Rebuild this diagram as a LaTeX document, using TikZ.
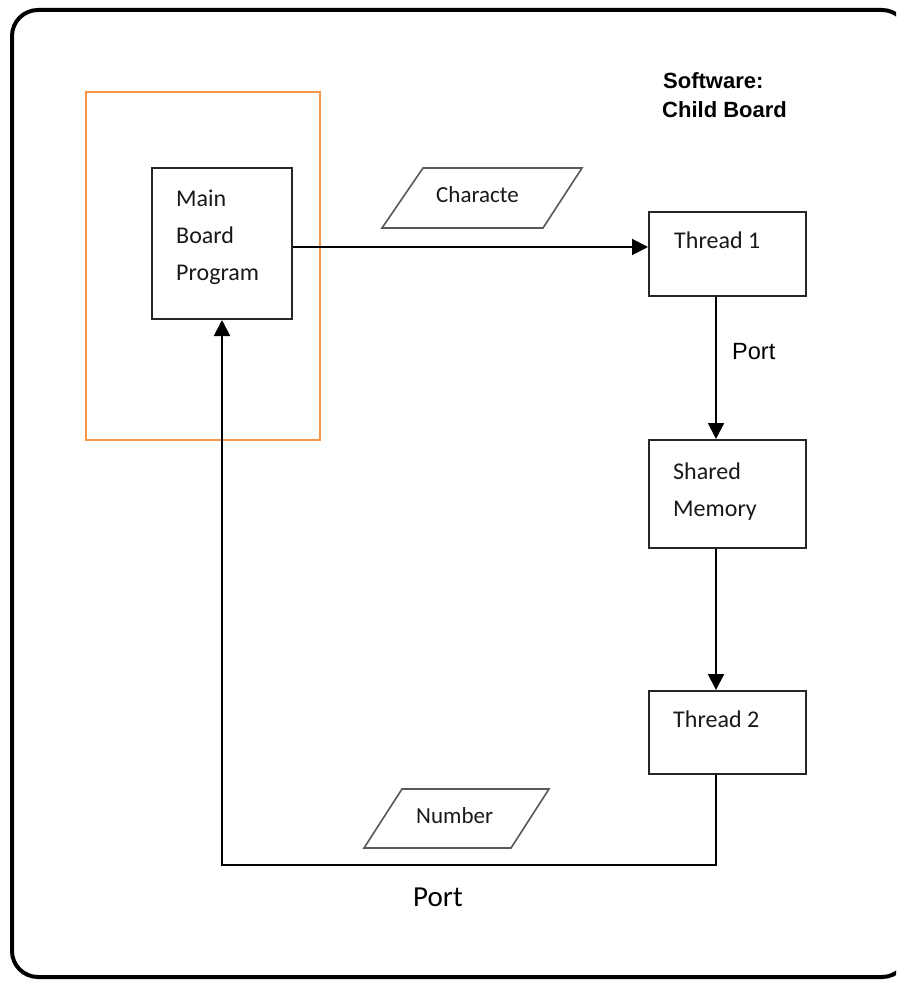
\documentclass[tikz,border=0pt]{standalone}
\usepackage{fontspec}
\setmainfont{Carlito}
\newfontfamily\arialf{Liberation Sans}
\usetikzlibrary{arrows.meta,calc}

\tikzset{
  box/.style={draw=black!85, line width=2pt, minimum width=157pt, inner sep=0pt, fill=white},
  txt/.style={anchor=base west, inner sep=0pt, font=\fontsize{24}{24}\selectfont, text=black!90},
  smalltxt/.style={anchor=base west, inner sep=0pt, font=\fontsize{23}{23}\selectfont, text=black!90},
  para/.style={draw=black!65, line width=1.6pt, line join=miter},
  arr/.style={draw=black, line width=2pt, -{Triangle[length=16pt,width=16pt]}},
  wire/.style={draw=black, line width=2pt}
}

\begin{document}
\begin{tikzpicture}[x=1pt,y=-1pt]
  \useasboundingbox (0,0) rectangle (896,981);
  \clip (0,0) rectangle (896,981);
  \fill[white] (0,0) rectangle (896,981);

  % outer frame
  \draw[line width=4pt, rounded corners=26pt] (12,10) rectangle (908,977);

  % main board group
  \draw[draw={rgb,255:red,247;green,150;blue,70}, line width=1.6pt] (86,92) rectangle (320,440);

  % boxes
  \node[box, minimum width=140pt, minimum height=151pt] (main) at (222,243.5) {};
  \node[box, minimum height=84pt]  (t1) at (727.5,254) {};
  \node[box, minimum height=108pt] (sm) at (727.5,494) {};
  \node[box, minimum height=83pt]  (t2) at (727.5,732.5) {};

  % box texts
  \node[txt] (mainA) at (176,207) {Main};
  \node[txt] (mainB) at (176,244) {Board};
  \node[txt] (mainC) at (176,280) {Program};
  \node[txt] (t1lab) at (674,249) {Thread 1};
  \node[txt] (smA) at (673,479) {Shared};
  \node[txt] (smB) at (673,516) {Memory};
  \node[txt] (t2lab) at (673,727) {Thread 2};

  % title
  \node[anchor=base west, inner sep=0pt, font=\arialf\bfseries\fontsize{22}{22}\selectfont] (titA) at (663,89) {Software:};
  \node[anchor=base west, inner sep=0pt, font=\arialf\bfseries\fontsize{22}{22}\selectfont] (titB) at (662,118) {Child Board};

  % data parallelograms
  \draw[para] (382,228) -- (423,168) -- (582,168) -- (543,228) -- cycle;
  \node[smalltxt] (chr) at (436,203) {Characte};
  \draw[para] (364,848) -- (402,789) -- (549,789) -- (511,848) -- cycle;
  \node[smalltxt] (num) at (416,823) {Number};

  % connectors
  \coordinate (mout) at ($(main.east)+(0,3.5)$);
  \coordinate (t1out) at ($(t1.south)+(-11.5,0)$);
  \coordinate (smin) at ($(sm.north)+(-11.5,0)$);
  \coordinate (smout) at ($(sm.south)+(-11.5,0)$);
  \coordinate (t2in) at ($(t2.north)+(-11.5,0)$);
  \coordinate (t2out) at ($(t2.south)+(-11.5,0)$);
  \draw[arr] (mout) -- (mout -| t1.west);
  \draw[arr] (t1out) -- (smin);
  \draw[arr] (smout) -- (t2in);
  \draw[arr] (t2out) -- ++(0,90) -| (main.south);

  % port labels
  \node[anchor=base west, inner sep=0pt, font=\arialf\fontsize{23.5}{23.5}\selectfont] (portA) at (732,359) {Port};
  \node[anchor=base west, inner sep=0pt, font=\fontsize{29}{29}\selectfont] (portB) at (413,906) {Port};
\end{tikzpicture}
\end{document}
